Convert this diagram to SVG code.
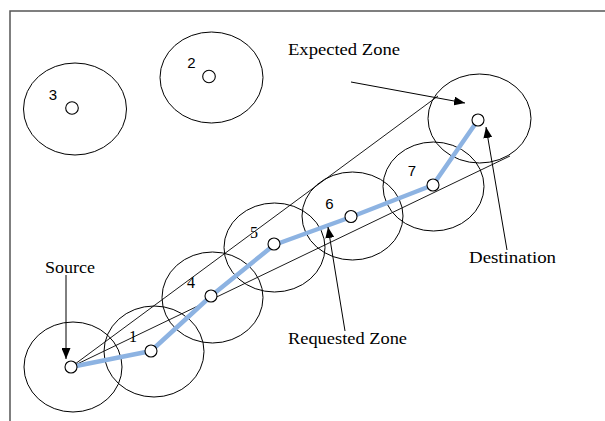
<svg xmlns="http://www.w3.org/2000/svg" width="605" height="421" viewBox="0 0 605 421">
<style>
.zone{fill:none;stroke:#000;stroke-width:1}
.dot{fill:#fff;stroke:#000;stroke-width:1.1}
.line{fill:none;stroke:#000;stroke-width:0.9}
.arrow{fill:none;stroke:#000;stroke-width:1;marker-end:url(#ah)}
.route{fill:none;stroke:#8db3e2;stroke-width:4.5;stroke-linejoin:round;stroke-linecap:round}
.lbl{font-family:"Liberation Serif","Times New Roman",serif;font-size:16px;fill:#000}
.num{font-family:"Liberation Sans",Arial,sans-serif;font-size:15px;fill:#000;text-anchor:middle}
.nums{font-family:"Liberation Serif","Times New Roman",serif;font-size:16px;fill:#000;text-anchor:middle}
</style>
<defs>
<marker id="ah" markerUnits="userSpaceOnUse" markerWidth="11" markerHeight="9" refX="11" refY="4.5" orient="auto">
<path d="M0,0 L11,4.5 L0,9 z" fill="#000"/>
</marker>
</defs>
<rect width="605" height="421" fill="#fff"/>
<path d="M10,421 L10,11 L605,11" fill="none" stroke="#555" stroke-width="1.5"/>

<g id="node-3"><ellipse class="zone" cx="75" cy="109" rx="51.5" ry="46"/></g>
<g id="node-2"><ellipse class="zone" cx="211.5" cy="77.5" rx="51.5" ry="45.5"/></g>
<g id="node-source"><ellipse class="zone" cx="73" cy="367" rx="49" ry="45"/></g>
<g id="node-1"><ellipse class="zone" cx="154" cy="351.5" rx="50" ry="45.5"/></g>
<g id="node-4"><ellipse class="zone" cx="212.5" cy="297.5" rx="50.5" ry="45.5"/></g>
<g id="node-5"><ellipse class="zone" cx="274.5" cy="247.5" rx="50.5" ry="44.5"/></g>
<g id="node-6"><ellipse class="zone" cx="352.5" cy="216" rx="50.5" ry="44"/></g>
<g id="node-7"><ellipse class="zone" cx="433.5" cy="186.5" rx="50.5" ry="44.5"/></g>
<g id="node-destination"><ellipse class="zone" cx="479.5" cy="118.5" rx="51.5" ry="44.5"/></g>

<g id="connectors">
<line class="line" x1="71" y1="367" x2="438" y2="96"/>
<line class="line" x1="71" y1="367" x2="510" y2="156"/>
<polyline class="route" points="71,367 151,351 211,296 274,245 351,217 433,185 478,120"/>
<line class="arrow" x1="66" y1="275" x2="66" y2="359"/>
<line class="arrow" x1="351" y1="82" x2="465" y2="103"/>
<line class="arrow" x1="507" y1="250" x2="486" y2="127"/>
<line class="arrow" x1="345" y1="331" x2="328" y2="227"/>
</g>

<g id="dots">
<circle class="dot" cx="72" cy="108" r="6.3"/>
<circle class="dot" cx="209" cy="76.5" r="6.3"/>
<circle class="dot" cx="71" cy="367" r="6"/>
<circle class="dot" cx="151" cy="351" r="6"/>
<circle class="dot" cx="211" cy="296" r="6"/>
<circle class="dot" cx="274" cy="244" r="6"/>
<circle class="dot" cx="351" cy="216.5" r="6"/>
<circle class="dot" cx="433" cy="185" r="6"/>
<circle class="dot" cx="478" cy="120" r="6"/>
</g>

<g id="labels">
<text class="num" x="53" y="100">3</text>
<text class="num" x="191.5" y="67.5">2</text>
<text class="nums" x="133" y="341.5">1</text>
<text class="nums" x="191" y="287.5">4</text>
<text class="nums" x="254" y="237.5">5</text>
<text class="num" x="329.5" y="208.5">6</text>
<text class="num" x="412" y="176">7</text>
<text class="lbl" x="288" y="55" textLength="112" lengthAdjust="spacingAndGlyphs">Expected Zone</text>
<text class="lbl" x="45" y="273" textLength="50" lengthAdjust="spacingAndGlyphs">Source</text>
<text class="lbl" x="469" y="263" textLength="87" lengthAdjust="spacingAndGlyphs">Destination</text>
<text class="lbl" x="288" y="344" textLength="119" lengthAdjust="spacingAndGlyphs">Requested Zone</text>
</g>
</svg>
